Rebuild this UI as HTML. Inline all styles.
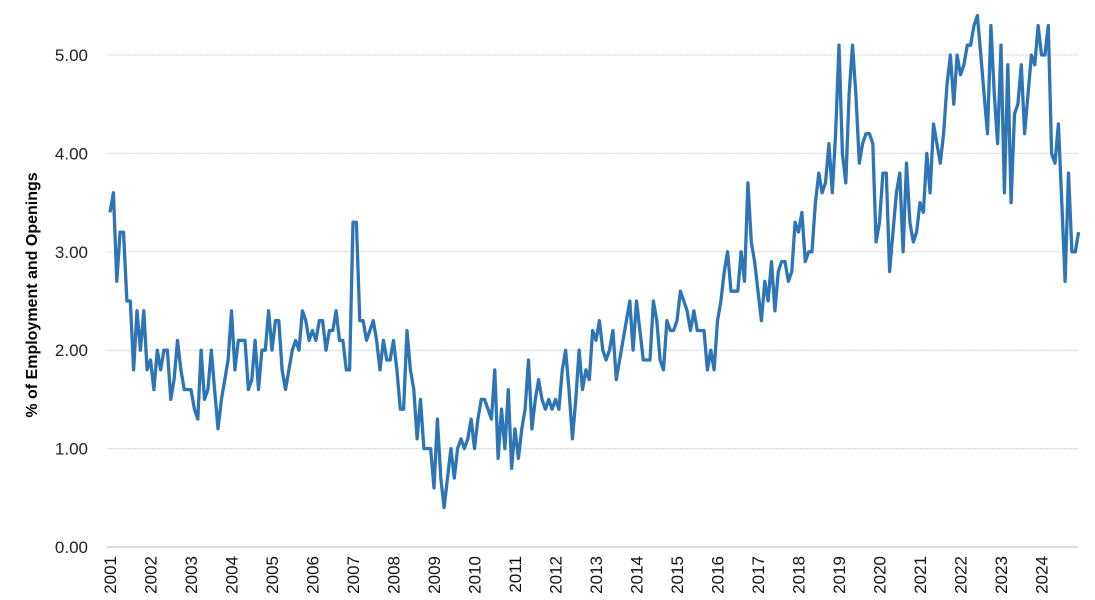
<!DOCTYPE html>
<html><head><meta charset="utf-8"><style>
body{margin:0;background:#fff;}
svg{display:block;font-family:"Liberation Sans",sans-serif;}
</style></head><body>
<svg id="chart" width="1095" height="600">
<g id="grid"></g>
<g id="yticks"></g>
<g id="xticks"></g>
<line x1="107" y1="547" x2="1078" y2="547" stroke="#c8c8c8" stroke-width="1.2"/>
<text transform="translate(37,295) rotate(-90)" text-anchor="middle" font-size="16" font-weight="bold" fill="#000">% of Employment and Openings</text>
<path id="series" fill="none" stroke="#2e75b6" stroke-width="3.3" stroke-linejoin="round"/>
</svg>
<script>
const years = [2001,2002,2003,2004,2005,2006,2007,2008,2009,2010,2011,2012,2013,2014,2015,2016,2017,2018,2019,2020,2021,2022,2023,2024];
const yTicks = [0,1,2,3,4,5];
const values = [
3.4,3.6,2.7,3.2,3.2,2.5,2.5,1.8,2.4,2.0,2.4,1.8,
1.9,1.6,2.0,1.8,2.0,2.0,1.5,1.7,2.1,1.8,1.6,1.6,
1.6,1.4,1.3,2.0,1.5,1.6,2.0,1.6,1.2,1.5,1.7,1.9,
2.4,1.8,2.1,2.1,2.1,1.6,1.7,2.1,1.6,2.0,2.0,2.4,
2.0,2.3,2.3,1.8,1.6,1.8,2.0,2.1,2.0,2.4,2.3,2.1,
2.2,2.1,2.3,2.3,2.0,2.2,2.2,2.4,2.1,2.1,1.8,1.8,
3.3,3.3,2.3,2.3,2.1,2.2,2.3,2.1,1.8,2.1,1.9,1.9,
2.1,1.8,1.4,1.4,2.2,1.8,1.6,1.1,1.5,1.0,1.0,1.0,
0.6,1.3,0.7,0.4,0.7,1.0,0.7,1.0,1.1,1.0,1.1,1.3,
1.0,1.3,1.5,1.5,1.4,1.3,1.8,0.9,1.4,1.0,1.6,0.8,
1.2,0.9,1.2,1.4,1.9,1.2,1.5,1.7,1.5,1.4,1.5,1.4,
1.5,1.4,1.8,2.0,1.6,1.1,1.5,2.0,1.6,1.8,1.7,2.2,
2.1,2.3,2.0,1.9,2.0,2.2,1.7,1.9,2.1,2.3,2.5,2.0,
2.5,2.2,1.9,1.9,1.9,2.5,2.3,1.9,1.8,2.3,2.2,2.2,
2.3,2.6,2.5,2.4,2.2,2.4,2.2,2.2,2.2,1.8,2.0,1.8,
2.3,2.5,2.8,3.0,2.6,2.6,2.6,3.0,2.7,3.7,3.1,2.9,
2.6,2.3,2.7,2.5,2.9,2.4,2.8,2.9,2.9,2.7,2.8,3.3,
3.2,3.4,2.9,3.0,3.0,3.5,3.8,3.6,3.7,4.1,3.6,4.2,
5.1,4.0,3.7,4.6,5.1,4.6,3.9,4.1,4.2,4.2,4.1,3.1,
3.3,3.8,3.8,2.8,3.2,3.6,3.8,3.0,3.9,3.3,3.1,3.2,
3.5,3.4,4.0,3.6,4.3,4.1,3.9,4.2,4.7,5.0,4.5,5.0,
4.8,4.9,5.1,5.1,5.3,5.4,5.0,4.6,4.2,5.3,4.6,4.1,
5.1,3.6,4.9,3.5,4.4,4.5,4.9,4.2,4.6,5.0,4.9,5.3,
5.0,5.0,5.3,4.0,3.9,4.3,3.5,2.7,3.8,3.0,3.0,3.2
];
const NS='http://www.w3.org/2000/svg';
const x0=110, perMonth=3.375, yZero=547, perUnit=98.4;
function xScale(i){return x0+i*perMonth;}
function yScale(v){return yZero-v*perUnit;}
const grid=document.getElementById('grid'), yt=document.getElementById('yticks'), xt=document.getElementById('xticks');
yTicks.forEach(t=>{
  if(t>0){
    const l=document.createElementNS(NS,'line');
    l.setAttribute('x1',107);l.setAttribute('x2',1078);
    l.setAttribute('y1',yScale(t));l.setAttribute('y2',yScale(t));
    l.setAttribute('stroke','#d4d4d4');l.setAttribute('stroke-width','1');l.setAttribute('stroke-dasharray','2,1');
    
    
    grid.appendChild(l);
  }
  const tx=document.createElementNS(NS,'text');
  tx.setAttribute('x',88);tx.setAttribute('y',yScale(t)+6);
  tx.setAttribute('text-anchor','end');tx.setAttribute('font-size','17');tx.setAttribute('fill','#222');
  tx.textContent=t.toFixed(2);
  
  
  yt.appendChild(tx);
});
years.forEach((y,k)=>{
  const x=xScale(k*12)+6;
  const tx=document.createElementNS(NS,'text');
  tx.setAttribute('transform','translate('+x+',556) rotate(-90)');
  tx.setAttribute('text-anchor','end');tx.setAttribute('font-size','17');tx.setAttribute('fill','#111');
  tx.textContent=y;
  
  
  xt.appendChild(tx);
});
document.getElementById('series').setAttribute('d',values.map((v,i)=>(i?'L':'M')+xScale(i).toFixed(1)+','+yScale(v).toFixed(1)).join(''));
</script>
</body></html>
